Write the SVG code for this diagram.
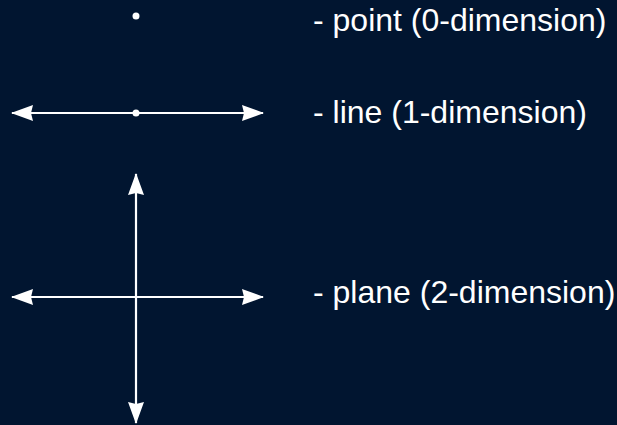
<svg xmlns="http://www.w3.org/2000/svg" width="617" height="425" viewBox="0 0 617 425">
<defs>
<style>
.ln{stroke:#ffffff;stroke-width:2.2;fill:none}
.dot{fill:#ffffff}
.lbl{font-family:"Liberation Sans",Arial,sans-serif;font-size:32px;fill:#ffffff}
</style>
<marker id="ah" viewBox="0 0 22 16" refX="21" refY="8" markerWidth="22" markerHeight="16" markerUnits="userSpaceOnUse" orient="auto-start-reverse">
<path d="M0,0 L22,8 L0,16 L2,8 Z" fill="#ffffff"/>
</marker>
</defs>
<rect width="617" height="425" fill="#011530"/>
<g id="connectors">
<line class="ln" x1="12" y1="113" x2="263" y2="113" marker-start="url(#ah)" marker-end="url(#ah)"/>
<line class="ln" x1="12" y1="297" x2="263" y2="297" marker-start="url(#ah)" marker-end="url(#ah)"/>
<line class="ln" x1="136" y1="174" x2="136" y2="423" marker-start="url(#ah)" marker-end="url(#ah)"/>
</g>
<g id="point"><circle class="dot" cx="136" cy="16" r="3.5"/></g>
<g id="line-dot"><circle class="dot" cx="136" cy="113" r="3.5"/></g>
<g id="label-point"><text class="lbl" x="313" y="31">- point (0-dimension)</text></g>
<g id="label-line"><text class="lbl" x="313" y="123">- line (1-dimension)</text></g>
<g id="label-plane"><text class="lbl" x="313" y="303">- plane (2-dimension)</text></g>
</svg>
